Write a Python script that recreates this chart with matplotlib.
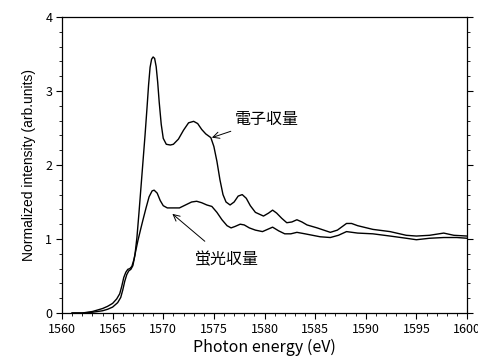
import matplotlib
matplotlib.use("Agg")
import matplotlib.pyplot as plt
from matplotlib.ticker import MultipleLocator

plt.rcParams['font.family'] = ['Noto Sans CJK JP', 'DejaVu Sans']

# Electron yield (電子収量)
e_energy = [1561.0, 1562.0, 1563.0, 1563.5, 1564.0, 1564.5, 1565.0, 1565.5, 1565.8, 1566.0,
            1566.2, 1566.4, 1566.6, 1566.8, 1567.0, 1567.2, 1567.4, 1567.6, 1567.8, 1568.0,
            1568.2, 1568.4, 1568.55, 1568.7, 1568.85, 1569.0, 1569.15, 1569.3, 1569.45, 1569.6,
            1569.8, 1570.0,
            1570.3, 1570.7, 1571.0, 1571.5, 1572.0, 1572.5, 1573.0, 1573.4, 1573.8, 1574.2,
            1574.7, 1575.0, 1575.3, 1575.6, 1575.9, 1576.2, 1576.6, 1577.0, 1577.4, 1577.8,
            1578.2, 1578.6, 1579.1, 1579.9, 1580.4, 1580.8, 1581.2, 1581.7, 1582.2, 1582.7,
            1583.2, 1583.7, 1584.2, 1585.2, 1586.5, 1587.2, 1587.7, 1588.1, 1588.6, 1589.2,
            1590.7, 1592.4, 1594.0, 1595.0, 1596.3, 1597.7, 1598.7, 1600.0]
e_intensity = [0.00, 0.00, 0.01, 0.02, 0.03, 0.05, 0.08, 0.14, 0.21, 0.31,
               0.43, 0.52, 0.57, 0.59, 0.64, 0.78, 1.02, 1.35, 1.70, 2.05,
               2.40, 2.78, 3.08, 3.32, 3.43, 3.46, 3.44, 3.33, 3.12, 2.85,
               2.55, 2.36,
               2.28, 2.27, 2.28, 2.35, 2.47, 2.57, 2.59, 2.56, 2.48, 2.42,
               2.37, 2.25, 2.05, 1.80, 1.60, 1.50, 1.46, 1.50, 1.58, 1.60,
               1.55, 1.45, 1.36, 1.31, 1.35, 1.39, 1.35, 1.28, 1.22, 1.23,
               1.26, 1.23, 1.19, 1.15, 1.09, 1.12, 1.17, 1.21, 1.21, 1.18,
               1.13, 1.10, 1.05, 1.04, 1.05, 1.08, 1.05, 1.04]

# Fluorescence yield (蛍光収量)
f_energy = [1561.0, 1562.0, 1563.0, 1563.5, 1564.0, 1564.5, 1565.0, 1565.4, 1565.7, 1565.9,
            1566.1, 1566.3, 1566.5, 1566.7, 1566.9, 1567.1, 1567.3, 1567.5, 1567.8, 1568.0,
            1568.3, 1568.6, 1568.9, 1569.1, 1569.4, 1569.7, 1570.0, 1570.4, 1571.0, 1571.6,
            1572.2, 1572.8, 1573.3, 1573.8, 1574.3, 1574.8, 1575.3, 1575.8, 1576.3, 1576.7,
            1577.1, 1577.6, 1578.0, 1578.5, 1579.1, 1579.8, 1580.3, 1580.8, 1581.4, 1582.0,
            1582.6, 1583.2, 1584.0, 1585.5, 1586.5, 1587.3, 1588.1, 1589.2, 1590.7, 1592.4,
            1594.0, 1595.0, 1596.3, 1597.7, 1599.0, 1600.0]
f_intensity = [0.00, 0.00, 0.02, 0.04, 0.06, 0.09, 0.13, 0.19, 0.26, 0.36,
               0.48, 0.55, 0.59, 0.60, 0.63, 0.72, 0.85, 0.98, 1.15, 1.26,
               1.42, 1.57, 1.65, 1.66, 1.62, 1.52, 1.45, 1.42, 1.42, 1.42,
               1.46, 1.50, 1.51, 1.49, 1.46, 1.44, 1.36, 1.26, 1.18, 1.15,
               1.17, 1.20, 1.19, 1.15, 1.12, 1.10, 1.13, 1.16, 1.11, 1.07,
               1.07, 1.09, 1.07, 1.03, 1.02, 1.05, 1.10, 1.08, 1.07, 1.04,
               1.01, 0.99, 1.01, 1.02, 1.02, 1.01]

x_ticks = [1560, 1565, 1570, 1575, 1580, 1585, 1590, 1595, 1600]
y_ticks = [0, 1, 2, 3, 4]

fig = plt.figure(figsize=(4.78, 3.58), dpi=100)
ax = fig.add_axes([62/478, 1 - 313/358, (467 - 62)/478, (313 - 17)/358])

ax.plot(e_energy, e_intensity, color='black', lw=1.0)
ax.plot(f_energy, f_intensity, color='black', lw=1.0)

ax.set_xlim(1560, 1600)
ax.set_ylim(0, 4)
ax.set_xticks(x_ticks)
ax.set_yticks(y_ticks)
ax.xaxis.set_minor_locator(MultipleLocator(1))
ax.yaxis.set_minor_locator(MultipleLocator(0.2))
ax.tick_params(axis='both', which='major', direction='out', length=4, width=0.8,
               labelsize=9, pad=3)
ax.tick_params(axis='both', which='minor', direction='out', length=2.5, width=0.6)
ax.tick_params(axis='y', which='both', right=True, labelright=False)
for s in ax.spines.values():
    s.set_linewidth(0.9)

ax.set_xlabel('Photon energy (eV)', fontsize=11.5, labelpad=2)
ax.set_ylabel('Normalized intensity (arb.units)', fontsize=10,
              family=['Liberation Sans', 'DejaVu Sans'], labelpad=7)

ax.annotate('電子収量', xy=(1574.8, 2.37), xytext=(1577.1, 2.62),
            fontsize=11.5, va='center', ha='left',
            arrowprops=dict(arrowstyle='->', color='black', lw=0.7,
                            shrinkA=2, shrinkB=0))
ax.annotate('蛍光収量', xy=(1570.9, 1.34), xytext=(1573.1, 0.72),
            fontsize=11.5, va='center', ha='left',
            arrowprops=dict(arrowstyle='->', color='black', lw=0.7,
                            shrinkA=8, shrinkB=0))

fig.savefig('out.png', dpi=100)
